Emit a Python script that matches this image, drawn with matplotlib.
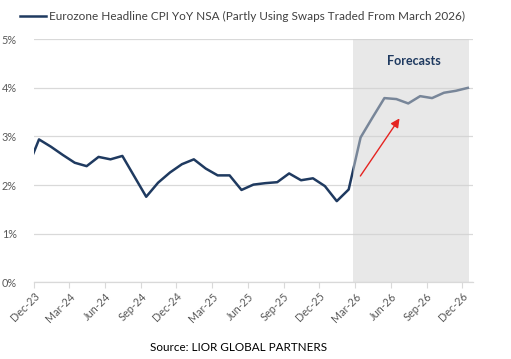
import matplotlib.pyplot as plt
import numpy as np

plt.rcParams['font.family'] = ['Lato', 'DejaVu Sans']

# monthly values, Nov-23 .. Dec-26 (from Mar-26 on: swaps-implied)
months = ['Nov-23', 'Dec-23', 'Jan-24', 'Feb-24', 'Mar-24', 'Apr-24', 'May-24', 'Jun-24',
          'Jul-24', 'Aug-24', 'Sep-24', 'Oct-24', 'Nov-24', 'Dec-24', 'Jan-25', 'Feb-25',
          'Mar-25', 'Apr-25', 'May-25', 'Jun-25', 'Jul-25', 'Aug-25', 'Sep-25', 'Oct-25',
          'Nov-25', 'Dec-25', 'Jan-26', 'Feb-26', 'Mar-26', 'Apr-26', 'May-26', 'Jun-26',
          'Jul-26', 'Aug-26', 'Sep-26', 'Oct-26', 'Nov-26', 'Dec-26']
cpi = [2.33, 2.94, 2.79, 2.62, 2.46, 2.39, 2.58, 2.53,
       2.60, 2.18, 1.76, 2.05, 2.26, 2.43, 2.53, 2.34,
       2.20, 2.20, 1.90, 2.01, 2.04, 2.06, 2.24, 2.10,
       2.14, 1.98, 1.67, 1.91, 2.98, 3.39, 3.79, 3.77,
       3.68, 3.83, 3.79, 3.90, 3.94, 4.00]
tick_labels = ['Dec-23', 'Mar-24', 'Jun-24', 'Sep-24', 'Dec-24', 'Mar-25', 'Jun-25',
               'Sep-25', 'Dec-25', 'Mar-26', 'Jun-26', 'Sep-26', 'Dec-26']
y_ticks = [0, 1, 2, 3, 4, 5]

navy = '#1f3a60'
grey_txt = '#595959'

x = np.arange(len(months)) - 1  # Dec-23 = 0
fig = plt.figure(figsize=(5.11, 3.59), dpi=100)
ax = fig.add_axes([0.0656, 0.2136, 0.8594, 0.677])

ax.plot(x, cpi, color=navy, lw=1.8, zorder=2,
        label='Eurozone Headline CPI YoY NSA (Partly Using Swaps Traded From March 2026)')

# forecast shading (semi-transparent, sits over the line)
ax.axvspan(26.4, 36.1, color='#d2d2d2', alpha=0.5, lw=0, zorder=3)
ax.text(31.5, 4.55, 'Forecasts', ha='center', va='center', fontsize=9,
        fontweight='bold', color='#1f3a60', zorder=5)
ax.annotate('', xy=(30.4, 3.42), xytext=(26.85, 2.14),
            arrowprops=dict(arrowstyle='-|>', color='#e52421', lw=1.0,
                            mutation_scale=13), zorder=5)

ax.set_xlim(-0.46, 36.41)
ax.set_ylim(0, 5)
ax.set_yticks(y_ticks)
ax.set_yticklabels([f'{v}%' for v in y_ticks])
ax.set_xticks([3 * i - 0.46 for i in range(len(tick_labels))])
ax.set_xticklabels(tick_labels, rotation=45, ha='right', rotation_mode='anchor')

ax.grid(axis='y', color='#d9d9d9', lw=0.9, zorder=0)
ax.set_axisbelow(True)
for s in ['top', 'right', 'left']:
    ax.spines[s].set_visible(False)
ax.spines['bottom'].set_color('#d9d9d9')
ax.spines['bottom'].set_linewidth(0.9)
ax.tick_params(axis='y', length=0, pad=12, labelsize=7.8, labelcolor=grey_txt)
ax.tick_params(axis='x', length=4, color='#d9d9d9', labelsize=7.8, labelcolor=grey_txt, pad=2)

fig.legend(loc='center left', bbox_to_anchor=(0.018, 0.955), frameon=False,
           handlelength=2.2, handletextpad=0.25, fontsize=8.5, labelcolor='#404040')

fig.text(0.466, 0.033, 'Source: LIOR GLOBAL PARTNERS', ha='center', va='center',
         fontsize=8.4, color='black')

fig.savefig('out.png', dpi=100)
